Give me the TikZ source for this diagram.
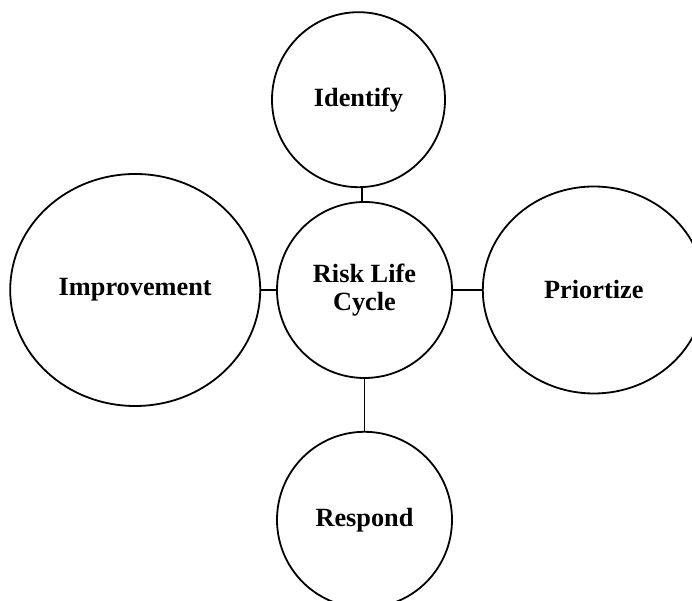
\documentclass[tikz,border=0pt]{standalone}
\usepackage{fontspec}
\setmainfont{Liberation Serif}
\usetikzlibrary{shapes.geometric,positioning}

\begin{document}
\begin{tikzpicture}[
    node distance=13pt,
    stage/.style={ellipse, draw, line width=1.8pt, inner sep=0pt, align=center, font=\bfseries\fontsize{26.3}{27.7}\selectfont},
    link/.style={line width=1.8pt}
]
\clip (0,0) rectangle (692pt,601pt);
% Centre of the cycle
\node[stage, minimum width=175pt, minimum height=176pt] (cycle) at (364.5pt,311pt) {Risk Life\\Cycle};
% Stages round it
\node[stage, minimum width=173pt, minimum height=175pt, above=13pt of cycle, xshift=-6pt] (identify) {Identify};
\node[stage, minimum width=250pt, minimum height=232pt, left=15pt of cycle] (improve) {Improvement};
\node[stage, minimum width=222pt, minimum height=207pt, right=29pt of cycle] (prioritize) {Priortize};
\node[stage, minimum width=175pt, minimum height=176pt, below=52pt of cycle] (respond) {Respond};
% Links
\draw[link] ([xshift=-2.5pt]cycle.north) -- ([xshift=-2.5pt]cycle.north |- identify.south);
\draw[link] (improve) -- (cycle);
\draw[link] (cycle) -- (prioritize);
\draw[link] (cycle) -- (respond);
\end{tikzpicture}
\end{document}
